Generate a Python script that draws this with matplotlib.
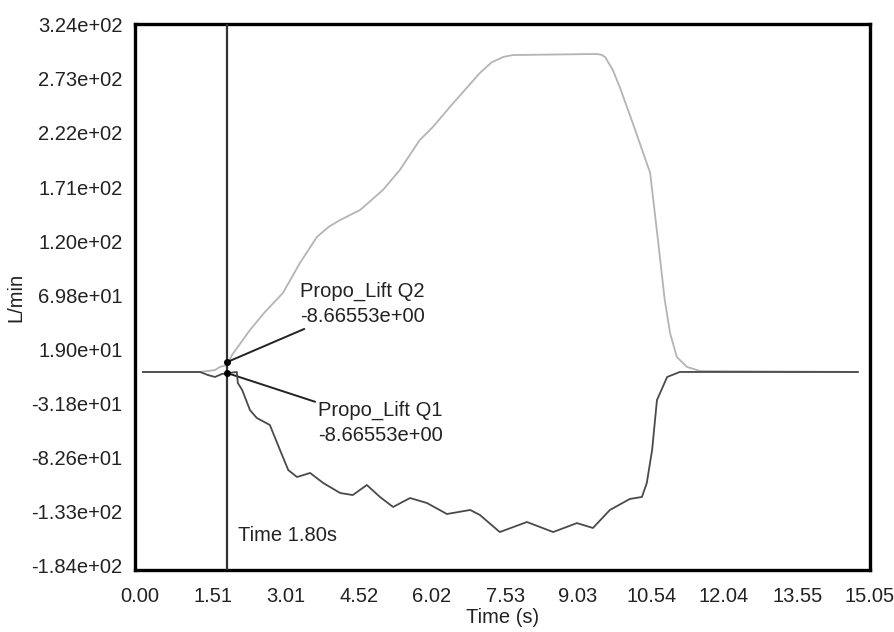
import matplotlib
matplotlib.use("Agg")
import matplotlib.pyplot as plt
import numpy as np

plt.rcParams["font.family"] = ["Liberation Sans", "DejaVu Sans"]

# values
x_ticks = [0.00, 1.51, 3.01, 4.52, 6.02, 7.53, 9.03, 10.54, 12.04, 13.55, 15.05]
x_tick_labels = ["0.00", "1.51", "3.01", "4.52", "6.02", "7.53", "9.03",
                 "10.54", "12.04", "13.55", "15.05"]
y_ticks = [324, 273, 222, 171, 120, 69.8, 19.0, -31.8, -82.6, -133, -184]
y_tick_labels = ["3.24e+02", "2.73e+02", "2.22e+02", "1.71e+02", "1.20e+02",
                 "6.98e+01", "1.90e+01", "-3.18e+01", "-8.26e+01",
                 "-1.33e+02", "-1.84e+02"]

q2_t = [0.065, 1.24, 1.55, 1.65, 1.80, 1.90, 2.27, 2.58, 2.95, 3.30, 3.65,
        3.90, 4.13, 4.54, 5.01, 5.36, 5.77, 6.04, 6.39, 7.01, 7.25, 7.49,
        7.69, 9.42, 9.52, 9.59, 9.75, 9.90, 10.16, 10.52, 10.68, 10.82,
        10.93, 11.07, 11.28, 11.55, 14.80]
q2_flow = [-2.3, -2.3, -0.5, 2.4, 4.2, 13.6, 37.0, 54.0, 71.8, 99.9, 124.3,
           134.0, 140.2, 149.6, 168.3, 187.1, 215.2, 227.4, 246.2, 278.1,
           288.0, 293.1, 294.9, 295.9, 295.0, 293.1, 280.9, 264.0, 231.2,
           184.3, 121.5, 65.2, 34.2, 11.7, 2.4, -1.4, -2.3]

q1_t = [0.065, 1.24, 1.40, 1.55, 1.69, 1.82, 2.00, 2.02, 2.11, 2.27, 2.41,
        2.68, 2.89, 3.06, 3.24, 3.51, 3.78, 4.13, 4.39, 4.68, 4.95, 5.22,
        5.57, 5.92, 6.33, 6.81, 7.01, 7.42, 7.98, 8.52, 9.01, 9.34, 9.69,
        10.10, 10.35, 10.45, 10.56, 10.66, 10.87, 11.13, 14.80]
q1_flow = [-2.3, -2.3, -5.1, -7.0, -4.2, -3.3, -2.3, -12.6, -19.2, -38.0,
           -45.4, -52.0, -75.5, -94.3, -100.8, -97.0, -106.4, -115.8, -117.7,
           -108.3, -119.5, -128.9, -120.5, -125.2, -135.5, -131.7, -136.4,
           -152.4, -143.0, -152.4, -144.0, -148.6, -131.7, -121.4, -119.5,
           -106.4, -75.5, -28.6, -7.0, -2.3, -2.3]

cursor_t = 1.80
cursor_q2 = 7.0
cursor_q1 = -3.3
cursor_value = "-8.66553e+00"


def main():
    fs = 14.5
    fig = plt.figure(figsize=(8.95, 6.32), dpi=100)
    ax = fig.add_axes([0.1508, 0.0981, 0.8212, 0.8639])

    ax.plot(q2_t, q2_flow, color="#b4b4b4", lw=1.3, zorder=3)
    ax.plot(q1_t, q1_flow, color="#4a4a4a", lw=1.3, zorder=4)

    ax.axvline(cursor_t, color="#333333", lw=1.6, zorder=5)
    ax.plot([cursor_t, cursor_t], [cursor_q2, cursor_q1], "o",
            color="black", ms=4, zorder=6)

    ax.annotate(f"Propo_Lift Q2\n{cursor_value}", xy=(cursor_t, cursor_q2),
                xytext=(3.30, 61.4), textcoords="data", ha="left",
                va="center", fontsize=fs, color="#222222", linespacing=1.4,
                arrowprops=dict(arrowstyle="-", color="#222222", lw=1.4,
                                shrinkA=0, shrinkB=0))
    ax.annotate(f"Propo_Lift Q1\n{cursor_value}", xy=(cursor_t, cursor_q1),
                xytext=(3.67, -50.2), textcoords="data", ha="left",
                va="center", fontsize=fs, color="#222222", linespacing=1.4,
                arrowprops=dict(arrowstyle="-", color="#222222", lw=1.4,
                                shrinkA=0, shrinkB=0))
    ax.text(2.02, -155.2, f"Time {cursor_t:.2f}s", ha="left", va="center",
            fontsize=fs, color="#222222")

    ax.set_xlim(-0.1, 15.05)
    ax.set_ylim(-188, 324)
    ax.set_xticks(x_ticks)
    ax.set_xticklabels(x_tick_labels)
    ax.set_yticks(y_ticks)
    ax.set_yticklabels(y_tick_labels)
    ax.tick_params(length=0, labelsize=fs, labelcolor="#222222")
    ax.tick_params(axis="x", pad=12)
    ax.tick_params(axis="y", pad=9)

    for side in ax.spines.values():
        side.set_linewidth(2.4)
        side.set_color("black")

    ax.set_xlabel("Time (s)", fontsize=fs, color="#222222", labelpad=2)
    ax.set_ylabel("L/min", fontsize=fs, color="#222222", labelpad=4)

    fig.savefig("out.png", dpi=100)


if __name__ == "__main__":
    main()
